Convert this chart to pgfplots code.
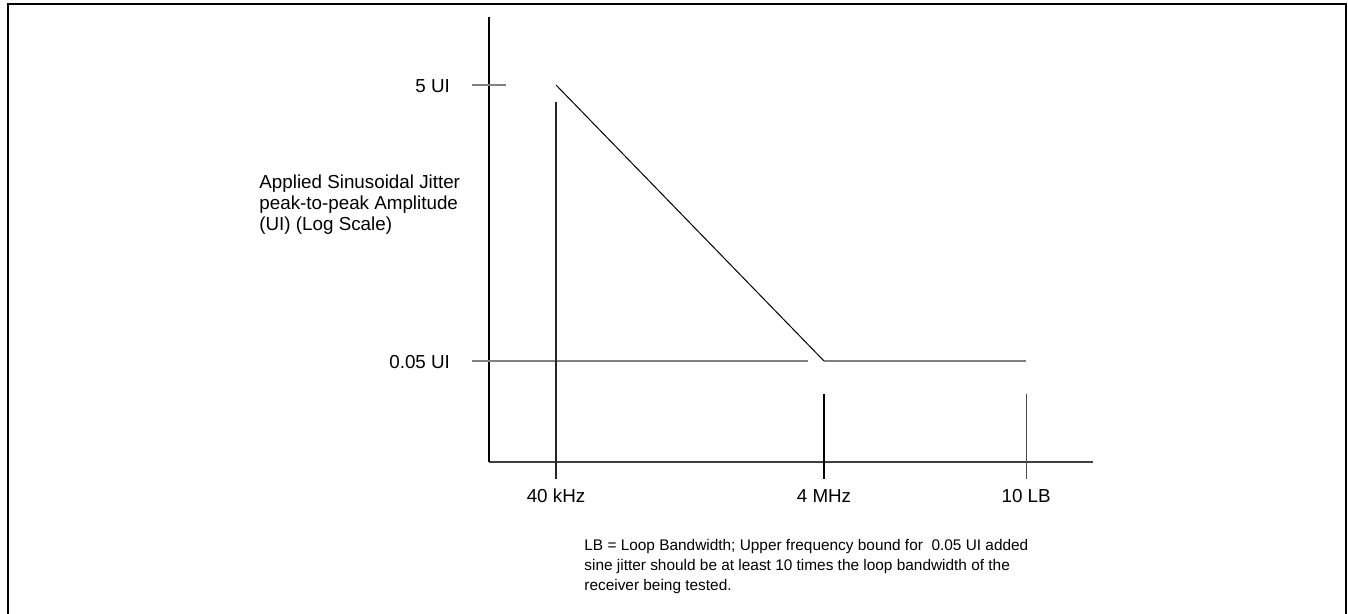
\documentclass[border=0pt]{standalone}
\usepackage{pgfplots}
\pgfplotsset{compat=1.18}
\usepackage{fontspec}
\setmainfont{Liberation Sans}
\begin{document}
\begin{tikzpicture}[x=1pt,y=1pt]
\useasboundingbox (0,0) rectangle (674,307);
\draw[line width=1.15pt] (4,-20) -- (4,305) -- (673,305) -- (673,-20);
\begin{axis}[
  at={(244.5pt,76pt)}, anchor=south west,
  scale only axis, width=302pt, height=222.5pt,
  xmode=log, ymode=log,
  xmin=12649, xmax=4.07e8, ymin=0.00927, ymax=15.55,
  axis x line*=bottom, axis y line*=left,
  x axis line style={-, draw=black!75, line width=0.65pt},
  y axis line style={-, draw=black, line width=0.75pt},
  xtick={40000,4000000,1.29e8},
  xticklabels={40 kHz, 4 MHz, 10 LB},
  ytick={0.05,5},
  yticklabels={0.05 UI, 5 UI},
  major tick length=0pt, minor tick length=0pt,
  xticklabel style={anchor=base, yshift=-20.5pt, font=\fontsize{9.4}{10.5}\selectfont},
  yticklabel style={anchor=base east, xshift=-16pt, yshift=-4pt, font=\fontsize{9.4}{10.5}\selectfont},
  clip=false,
]
\addplot[gray, line width=0.65pt] coordinates {(9444,5) (16944,5)};
\addplot[gray, line width=0.65pt] coordinates {(9444,0.05) (3.04e6,0.05)};
\addplot[gray, line width=0.65pt] coordinates {(4e6,0.05) (1.29e8,0.05)};
\addplot[black, line width=0.5pt] coordinates {(40000,5) (4e6,0.05)};
\addplot[black!85, line width=0.65pt] coordinates {(40000,3.766) (40000,0.00698)};
\addplot[black, line width=0.65pt] coordinates {(4e6,0.02884) (4e6,0.00698)};
\addplot[black!70, line width=0.65pt] coordinates {(1.29e8,0.02884) (1.29e8,0.00698)};
\end{axis}
\node[anchor=north west, inner sep=0pt, align=left, font=\fontsize{9.4}{10.5}\selectfont] at (129.5,220) {Applied Sinusoidal Jitter\\peak-to-peak Amplitude\\(UI) (Log Scale)};
\node[anchor=north west, inner sep=0pt, align=left, font=\fontsize{7.7}{10}\selectfont] at (292,37.5) {LB = Loop Bandwidth; Upper frequency bound for\ \ 0.05 UI added\\sine jitter should be at least 10 times the loop bandwidth of the\\receiver being tested.};
\end{tikzpicture}
\end{document}
